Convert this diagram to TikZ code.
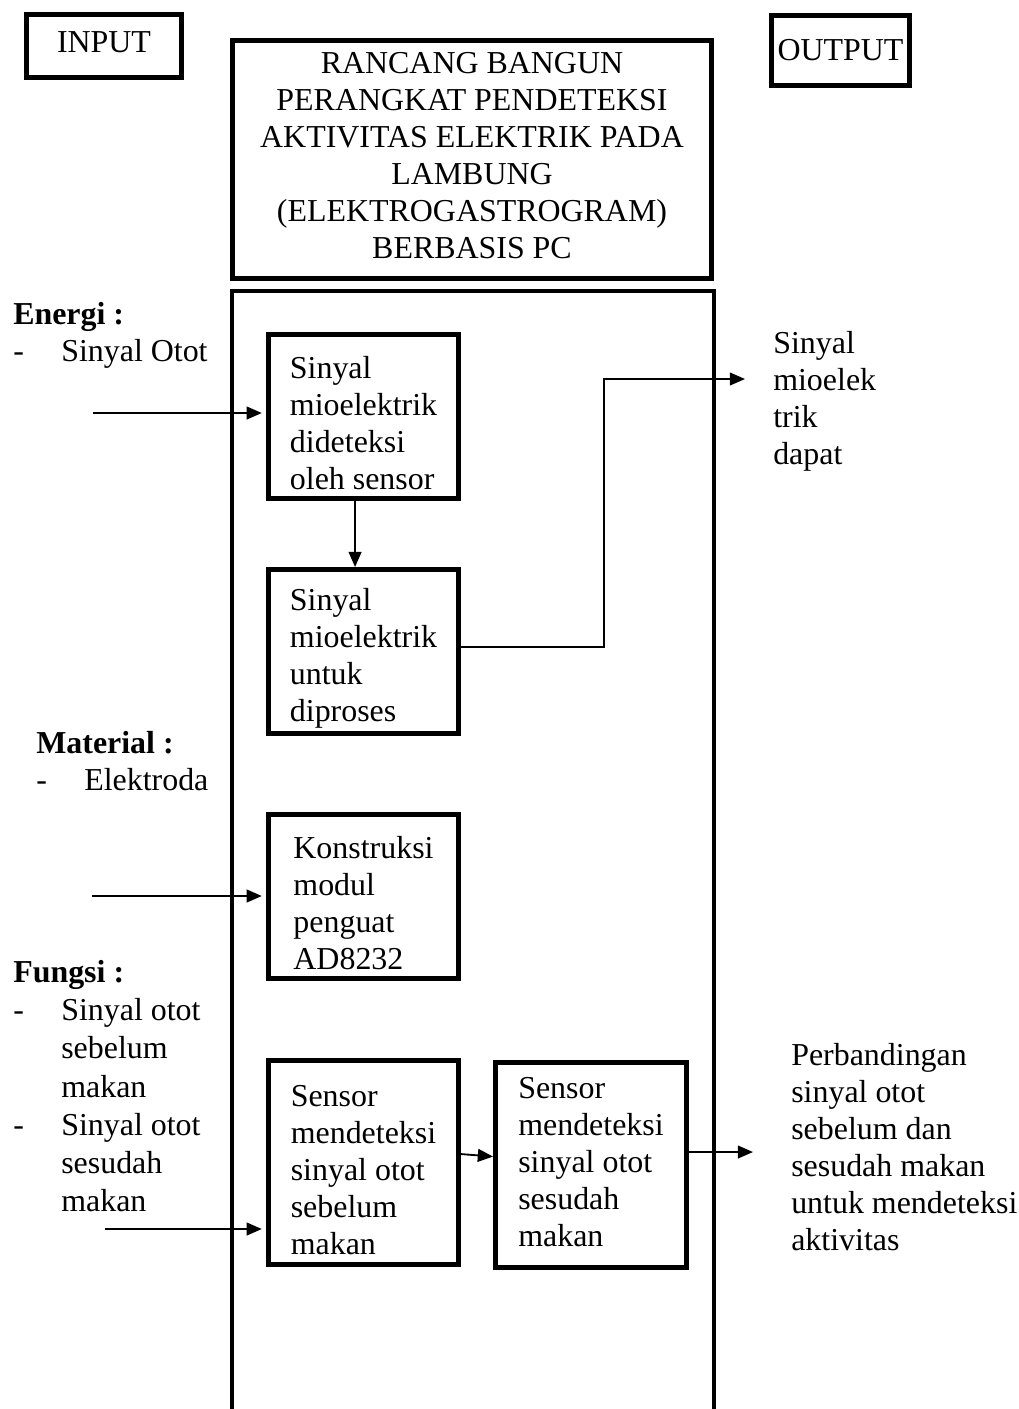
\documentclass[tikz,border=0pt]{standalone}
\usepackage{fontspec}
\setmainfont{Liberation Serif}
\usetikzlibrary{arrows.meta}
\tikzset{
  kotak/.style={draw, line width=3.5pt, inner sep=0pt},
  blok/.style={kotak, align=left, minimum width=4.75cm, minimum height=4.1cm},
  teks/.style={align=left, anchor=north west, inner sep=0pt},
  panah/.style={line width=1.3pt, shorten >=3pt, -{Triangle[length=0.38cm,width=0.32cm]}}
}
\newcommand{\butir}[1]{\makebox[1.2cm][l]{-}#1}
\newcommand{\lanjut}{\hspace*{1.2cm}}
\newcommand{\turun}{\rule{0pt}{25.5pt}}
\newcommand{\naik}[1]{\rule[-#1]{0pt}{0pt}}

\begin{document}
\begin{tikzpicture}[x=0.025cm, y=-0.025cm, font=\fontsize{22.7}{26.3}\selectfont]
\useasboundingbox (0,0) rectangle (1019,1409);
\path (104,46) node[kotak, minimum width=3.875cm, minimum height=1.575cm, text depth=5.7pt] (input) {INPUT};
\path (840.5,50.5) node[kotak, minimum width=3.45cm, minimum height=1.75cm] (output) {OUTPUT};
\path (472,159.5) node[kotak, align=center, minimum width=11.975cm, minimum height=5.95cm] (rancang)
  {RANCANG BANGUN\\PERANGKAT PENDETEKSI\\AKTIVITAS ELEKTRIK PADA\\LAMBUNG\\(ELEKTROGASTROGRAM)\\BERBASIS PC\naik{6.4pt}};
\draw[line width=3.5pt] (232,1409) -- (232,291) -- (714,291) -- (714,1409);

\path (13,302) node[teks] (energi) {\textbf{Energi :}\\\butir{Sinyal Otot}};
\path (36,731) node[teks] (material) {\textbf{Material :}\\\butir{Elektroda}};
\path (13,960) node[teks, font=\fontsize{22.7}{27.2}\selectfont] (fungsi) {\textbf{Fungsi :}\\\butir{Sinyal otot}\\\lanjut sebelum\\\lanjut makan\\\butir{Sinyal otot}\\\lanjut sesudah\\\lanjut makan};
\path (773,331) node[teks] (hasil1) {Sinyal\\mioelek\\trik\\dapat};
\path (791,1043) node[teks] (hasil2) {Perbandingan\\sinyal otot\\sebelum dan\\sesudah makan\\untuk mendeteksi\\aktivitas};

\path (363.5,416.5) node[blok] (sinyal1) {\turun Sinyal\\mioelektrik\\dideteksi\\oleh sensor};
\path (363.5,651.5) node[blok] (sinyal2) {\turun Sinyal\\mioelektrik\\untuk\\diproses};
\path (363.5,896.5) node[blok] (modul) {\turun Konstruksi\\modul\\penguat\\AD8232};
\path (363.5,1162.5) node[blok, minimum height=5.1cm] (sebelum) {\turun Sensor\\mendeteksi\\sinyal otot\\sebelum\\makan};
\path (591,1165) node[blok, minimum width=4.775cm, minimum height=5.125cm] (sesudah) {Sensor\\mendeteksi\\sinyal otot\\sesudah\\makan\naik{4.2pt}};

\coordinate (inE) at (93,413);
\coordinate (inM) at (92,896);
\coordinate (inF) at (105,1229);
\coordinate (outS) at (745,379);
\coordinate (outP) at (753,1152);

\draw[panah] (inE) -- (inE -| sinyal1.west);
\draw[panah] (inM) -- (inM -| modul.west);
\draw[panah] (inF) -- (inF -| sebelum.west);
\draw[panah, shorten >=0pt] ([xshift=-6pt]sinyal1.south) -- ([xshift=-6pt]sinyal2.north);
\draw[panah, shorten >=0pt] ([yshift=3pt]sinyal2.east) -- ++(143,0) |- (outS);
\draw[panah, shorten >=0pt] ([yshift=6pt]sebelum.east) -- ([yshift=6pt]sesudah.west);
\draw[panah, shorten >=0pt] (outP -| sesudah.east) -- (outP);
\end{tikzpicture}
\end{document}
